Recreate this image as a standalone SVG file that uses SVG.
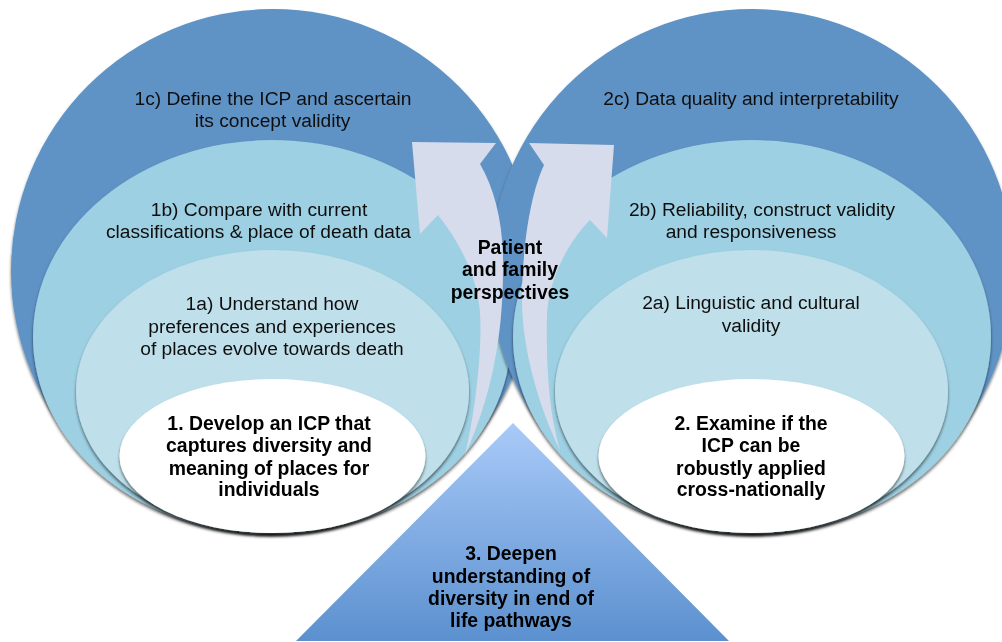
<svg xmlns="http://www.w3.org/2000/svg" width="1002" height="642" viewBox="0 0 1002 642">
<defs>
<linearGradient id="tri" x1="0" y1="0" x2="0" y2="1"><stop offset="0" stop-color="#a9caf8"/><stop offset="1" stop-color="#5b90cf"/></linearGradient>
<filter id="sh" x="-10%" y="-10%" width="120%" height="120%"><feDropShadow dx="0" dy="2.5" stdDeviation="1.8" flood-color="#000" flood-opacity="0.55"/></filter>
<filter id="soft" x="-5%" y="-5%" width="110%" height="110%"><feGaussianBlur stdDeviation="0.35"/></filter>
</defs>
<style>
.o{fill:#5e92c5}.m{fill:#9dd0e2}.i{fill:#bfe0eb}.w{fill:#fff}
.a{fill:#d6dcec}
text{font-family:"Liberation Sans",Arial,sans-serif;font-size:19.2px;fill:#111;text-anchor:middle;filter:url(#soft)}
.b{font-weight:bold;fill:#000;font-size:19.4px}
</style>
<rect width="1002" height="642" fill="#fff"/>
<g id="left-circles">
<ellipse class="o" cx="273" cy="271" rx="262" ry="262" filter="url(#sh)"/>
<ellipse class="m" cx="272" cy="337" rx="239" ry="197" filter="url(#sh)"/>
<ellipse class="i" cx="272.500" cy="391.500" rx="196.500" ry="141.500" filter="url(#sh)"/>
<ellipse class="w" cx="272.500" cy="456" rx="153" ry="77" filter="url(#sh)"/>
</g>
<g id="right-circles">
<ellipse class="o" cx="752" cy="271" rx="262" ry="262" filter="url(#sh)"/>
<ellipse class="m" cx="752" cy="337" rx="239" ry="197" filter="url(#sh)"/>
<ellipse class="i" cx="751.500" cy="391.500" rx="196.500" ry="141.500" filter="url(#sh)"/>
<ellipse class="w" cx="751.500" cy="456" rx="153" ry="77" filter="url(#sh)"/>
</g>
<g id="connectors">
<path class="a" d="M412 142L496 143L480 164C495 190 504 225 503 270C503 340 490 400 465 455C478 400 482 340 480 313C478 280 462 245 438 215L420 234Z"/>
<path class="a" d="M529 143L614 145L607 238L590 220C570 240 550 275 547 313C546 360 548 410 560 450C540 410 522 350 522 300C522 250 530 195 544 165Z"/>
</g>
<g id="node-3"><polygon points="513,423 729,641 296,641" fill="url(#tri)"/>
<text class="b" x="511" y="560">3. Deepen</text><text class="b" x="511" y="583">understanding of</text><text class="b" x="511" y="605">diversity in end of</text><text class="b" x="511" y="627">life pathways</text></g>
<g id="node-1c"><text x="273" y="105">1c) Define the ICP and ascertain</text><text x="272.500" y="127">its concept validity</text></g>
<g id="node-1b"><text x="259" y="216">1b) Compare with current</text><text x="258.500" y="238">classifications &amp; place of death data</text></g>
<g id="node-1a"><text x="272" y="310">1a) Understand how</text><text x="272" y="333">preferences and experiences</text><text x="272" y="355">of places evolve towards death</text></g>
<g id="node-1"><text class="b" x="269" y="430">1. Develop an ICP that</text><text class="b" x="269" y="452">captures diversity and</text><text class="b" x="269" y="475">meaning of places for</text><text class="b" x="269" y="496">individuals</text></g>
<g id="node-2c"><text x="751" y="105">2c) Data quality and interpretability</text></g>
<g id="node-2b"><text x="762" y="216">2b) Reliability, construct validity</text><text x="751" y="238">and responsiveness</text></g>
<g id="node-2a"><text x="751" y="309">2a) Linguistic and cultural</text><text x="751" y="332">validity</text></g>
<g id="node-2"><text class="b" x="751" y="430">2. Examine if the</text><text class="b" x="751" y="452">ICP can be</text><text class="b" x="751" y="475">robustly applied</text><text class="b" x="751" y="496">cross-nationally</text></g>
<g id="node-perspectives"><text class="b" x="510" y="254">Patient</text><text class="b" x="510" y="276">and family</text><text class="b" x="510" y="299">perspectives</text></g>
</svg>
